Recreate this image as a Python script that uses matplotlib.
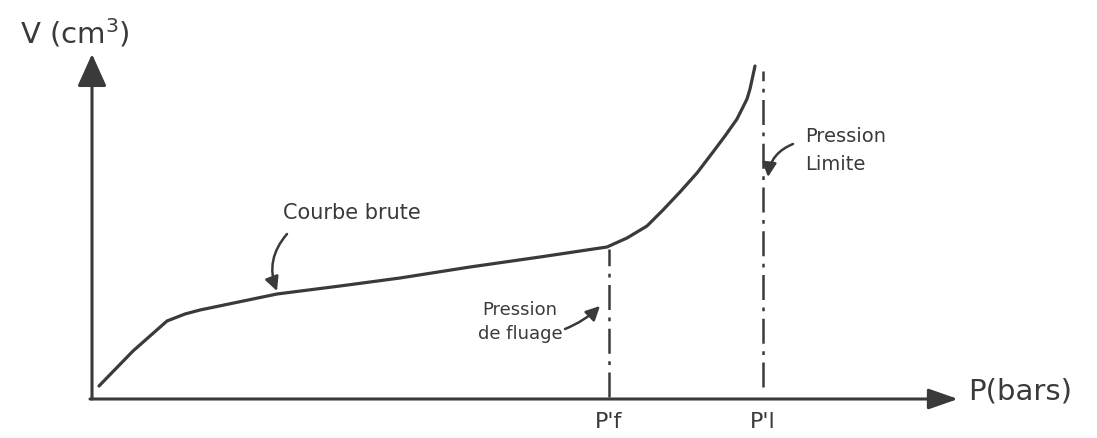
import numpy as np
import matplotlib.pyplot as plt

# Pressiometer sketch: raw curve V = f(P), units are arbitrary (sketch scale)
pressure = [7, 41, 58, 75, 93, 108, 185, 248, 308, 378, 448, 515,
            535, 555, 571, 588, 605, 621, 633, 645, 655, 658, 663]
volume = [11, 46, 61, 76, 83, 87, 103, 111, 119, 130, 140, 150,
          159, 171, 187, 205, 224, 245, 261, 278, 298, 308, 331]

p_fluage = 517      # P'f
p_limite = 671      # P'l
v_fluage_top = 148
v_limite = (10, 326)

x_axis_end = 866
y_axis_end = 343

ink = "#3a3a3a"

fig = plt.figure(figsize=(10.97, 4.39), dpi=100)
ax = fig.add_axes([0, 0, 1, 1])
ax.set_xlim(-92, 1005)
ax.set_ylim(-41, 398)
ax.axis("off")

# axes with arrow heads
ax.annotate("", xy=(0, y_axis_end), xytext=(0, -2),
            arrowprops=dict(arrowstyle="-|>,head_length=1.0,head_width=0.45",
                            mutation_scale=20, lw=2.2, color=ink, shrinkA=0, shrinkB=0))
ax.annotate("", xy=(x_axis_end, -2), xytext=(-2, -2),
            arrowprops=dict(arrowstyle="-|>,head_length=1.0,head_width=0.35",
                            mutation_scale=18, lw=2.2, color=ink, shrinkA=0, shrinkB=0))

# raw curve
ax.plot(pressure, volume, color=ink, lw=2.3, solid_capstyle="round", solid_joinstyle="round")

# vertical dash-dot lines
dash = (0, (10, 3, 1.5, 3))
ax.plot([p_fluage, p_fluage], [0, v_fluage_top], color=ink, lw=1.8, linestyle=dash)
ax.plot([p_limite, p_limite], list(v_limite), color=ink, lw=1.8, linestyle=dash)

# labels
ax.text(-17, 365, "V (cm$^3$)", fontsize=21, color=ink, ha="center", va="center")
ax.text(876, 6, "P(bars)", fontsize=21, color=ink, ha="left", va="center")
ax.text(p_fluage, -24, "P'f", fontsize=16, color=ink, ha="center", va="center")
ax.text(p_limite, -24, "P'l", fontsize=16, color=ink, ha="center", va="center")

ax.text(191, 185, "Courbe brute", fontsize=15, color=ink, ha="left", va="center")
ax.text(428, 76, "Pression\nde fluage", fontsize=13, color=ink, ha="center", va="center",
        linespacing=1.4)
ax.text(713, 248, "Pression\nLimite", fontsize=14, color=ink, ha="left", va="center",
        linespacing=1.6)

# pointer arrows
arrow_kw = dict(arrowstyle="-|>,head_length=0.6,head_width=0.3", mutation_scale=14,
                lw=1.8, color=ink, shrinkA=0, shrinkB=0)
ax.annotate("", xy=(185, 106), xytext=(195, 163),
            arrowprops=dict(connectionstyle="arc3,rad=0.3", **arrow_kw))
ax.annotate("", xy=(508, 91), xytext=(473, 68),
            arrowprops=dict(connectionstyle="arc3,rad=0.1", **arrow_kw))
ax.annotate("", xy=(676, 220), xytext=(701, 253),
            arrowprops=dict(connectionstyle="arc3,rad=0.3", **arrow_kw))

fig.savefig("out.png", dpi=100, facecolor="white")
